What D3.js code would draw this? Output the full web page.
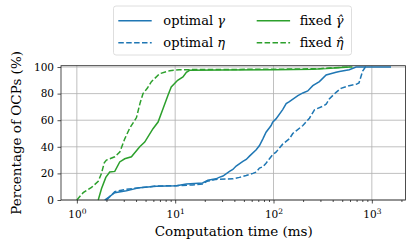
<!DOCTYPE html>
<html>
<head>
<meta charset="utf-8">
<script src="https://cdn.jsdelivr.net/npm/d3@7"></script>
<style>
  body { margin: 0; background: #fff; }
  svg { display: block; font-family: "DejaVu Serif", serif; }
</style>
</head>
<body>
<svg id="cdfChart"></svg>
<script>
/** Chart data: [time (ms), percentage of OCPs] **/
var optimalGamma = [
    [1.92, 0], [2.1, 2], [2.43, 5.5], [3.19, 7], [4.36, 9.3], [6.43, 10.3], [10.3, 10.8],
    [13, 12], [19, 12.8], [21.5, 14.8], [26, 15.9], [28, 17], [30.6, 18], [35.7, 21.5],
    [38.6, 23], [41.7, 25.5], [48.8, 29], [52.8, 30.5], [57, 33], [66.7, 37.8], [72, 41],
    [78, 46], [84, 51], [94.6, 56], [98, 58.5], [106, 61], [124, 68], [134.6, 72.5],
    [145, 74], [177, 78.5], [199, 80.5], [223, 82], [251, 86], [293, 89], [343, 94],
    [433, 96], [468, 96.7], [590, 98], [692, 100], [1567, 100]
];
var optimalEta = [
    [2.0, 0], [2.2, 3], [2.43, 6.3], [3.19, 8], [4.36, 9.3], [6.43, 10.5], [10.3, 10.8],
    [15, 11.3], [19, 12], [21, 14], [26, 15.5], [38.6, 15.9], [45, 17], [52.7, 18.4],
    [61.7, 20], [66.7, 21], [72, 24], [78, 25], [84, 27.7], [91, 31], [98, 34], [106, 36],
    [124, 42], [145, 46], [157, 50], [170, 52], [199, 56], [232, 61.5], [261, 67.8],
    [316, 70.5], [343, 72], [369, 76], [433, 81], [486, 84], [589, 86], [692, 87],
    [740, 88], [807, 97], [860, 100], [900, 100]
];
var fixedGamma = [
    [1.65, 0], [1.78, 8.5], [1.97, 17], [2.16, 21], [2.43, 21.5], [2.73, 28.6], [3.07, 31],
    [3.59, 32.5], [4.36, 40], [4.9, 43.6], [5.95, 53.6], [6.7, 58.6], [7.52, 68.6],
    [8.45, 78.7], [9.12, 85], [10.6, 90], [12, 92.5], [13, 96], [14, 97.5], [30, 97.8],
    [100, 98], [250, 98.3], [343, 98.8], [450, 99.5], [600, 100], [635, 100]
];
var fixedEta = [
    [1.0, 0], [1.16, 5.5], [1.41, 9.5], [1.65, 14], [1.78, 20], [1.9, 28], [2.0, 30],
    [2.43, 32.5], [2.73, 36], [3.07, 46], [3.45, 54], [4.04, 62], [4.4, 73], [4.71, 80],
    [5.2, 84], [5.73, 89], [6.96, 95], [8.8, 97.2], [11, 98], [30, 98.2], [100, 98.3],
    [300, 98.8], [400, 99.5], [600, 100]
];

var seriesNames  = ["optimal", "optimal", "fixed", "fixed"];
var seriesSymbol = ["\u03B3", "\u03B7", "\u03B3\u0302", "\u03B7\u0302"];
var xTickValues  = [1, 10, 100, 1000];
var xTickPowers  = ["0", "1", "2", "3"];
var yTickValues  = [0, 20, 40, 60, 80, 100];

function drawChart()
{
    var width = 406;
    var height = 242;
    var margin = {left: 61, right: 0.5, top: 65.7, bottom: 42};

    var color_blue  = '#1f77b4';
    var color_green = '#2ca02c';
    var color_grid  = '#b0b0b0';

    var svg = d3.select("#cdfChart")
        .attr("width", width)
        .attr("height", height);

    var xScale = d3.scaleLog()
        .domain([0.69, 2200])
        .range([margin.left, width - margin.right]);

    var yScale = d3.scaleLinear()
        .domain([0, 101])
        .range([height - margin.bottom, margin.top]);

    var series = [
        {data: optimalGamma, color: color_blue,  dash: null},
        {data: optimalEta,   color: color_blue,  dash: "5.5,2.4"},
        {data: fixedGamma,   color: color_green, dash: null},
        {data: fixedEta,     color: color_green, dash: "5.5,2.4"}
    ];

    // Grid lines (major ticks only).
    var grid = svg.append("g");
    grid.selectAll("line.gx")
        .data(xTickValues)
        .enter().append("line")
        .attr("x1", function(d) { return xScale(d); })
        .attr("x2", function(d) { return xScale(d); })
        .attr("y1", yScale.range()[0])
        .attr("y2", yScale.range()[1])
        .attr("stroke", color_grid)
        .attr("stroke-width", 0.8);
    grid.selectAll("line.gy")
        .data(yTickValues)
        .enter().append("line")
        .attr("x1", xScale.range()[0])
        .attr("x2", xScale.range()[1])
        .attr("y1", function(d) { return yScale(d); })
        .attr("y2", function(d) { return yScale(d); })
        .attr("stroke", color_grid)
        .attr("stroke-width", 0.8);

    // Curves.
    var line = d3.line()
        .x(function(d) { return xScale(d[0]); })
        .y(function(d) { return yScale(d[1]); });

    svg.append("g")
        .selectAll("path")
        .data(series)
        .enter().append("path")
        .attr("d", function(d) { return line(d.data); })
        .attr("fill", "none")
        .attr("stroke", function(d) { return d.color; })
        .attr("stroke-width", 1.5)
        .attr("stroke-dasharray", function(d) { return d.dash; });

    // Axes.
    var minorTicks = [];
    for (var dec = 1; dec <= 1000; dec *= 10)
        for (var k = 2; k <= 9; k++)
            if (k * dec < 2200) minorTicks.push(k * dec);

    var xAxisMinor = d3.axisBottom(xScale)
        .tickValues(minorTicks)
        .tickSize(2)
        .tickFormat("");
    var xAxis = d3.axisBottom(xScale)
        .tickValues(xTickValues)
        .tickSize(3.5)
        .tickPadding(4)
        .tickFormat(function() { return ""; });
    var yAxis = d3.axisLeft(yScale)
        .tickValues(yTickValues)
        .tickSize(3.5)
        .tickPadding(3.5);

    svg.append("g")
        .attr("transform", "translate(0," + yScale.range()[0] + ")")
        .call(xAxisMinor)
        .call(function(g) { g.select(".domain").remove(); });

    var gx = svg.append("g")
        .attr("transform", "translate(0," + yScale.range()[0] + ")")
        .call(xAxis);
    gx.select(".domain").remove();
    var xLabels = gx.selectAll(".tick text")
        .attr("y", 18.3)
        .attr("dy", null)
        .attr("font-size", 10.5)
        .attr("font-family", "DejaVu Serif")
        .attr("fill", "#000");
    xLabels.append("tspan").text("10");
    xLabels.append("tspan")
        .attr("dy", -4.5)
        .attr("font-size", 7.5)
        .text(function(d, i) { return xTickPowers[i]; });

    var gy = svg.append("g")
        .attr("transform", "translate(" + xScale.range()[0] + ",0)")
        .call(yAxis);
    gy.select(".domain").remove();
    gy.selectAll(".tick text")
        .attr("font-size", 10.5)
        .attr("font-family", "DejaVu Serif")
        .attr("fill", "#000");

    svg.selectAll(".tick line").attr("stroke", "#222").attr("stroke-width", 0.8);

    // Frame.
    svg.append("rect")
        .attr("x", xScale.range()[0])
        .attr("y", yScale.range()[1])
        .attr("width", xScale.range()[1] - xScale.range()[0])
        .attr("height", yScale.range()[0] - yScale.range()[1])
        .attr("fill", "none")
        .attr("stroke", "#222")
        .attr("stroke-width", 0.8);

    // Axis labels.
    svg.append("text")
        .attr("x", (xScale.range()[0] + xScale.range()[1]) / 2 + 0.5)
        .attr("y", 236)
        .attr("text-anchor", "middle")
        .attr("font-size", 13.5)
        .text("Computation time (ms)");

    svg.append("text")
        .attr("transform", "translate(21," + ((yScale.range()[0] + yScale.range()[1]) / 2) + ") rotate(-90)")
        .attr("text-anchor", "middle")
        .attr("font-size", 13.5)
        .text("Percentage of OCPs (%)");

    // Legend.
    var legend = svg.append("g");
    legend.append("rect")
        .attr("x", 113.5)
        .attr("y", 6)
        .attr("width", 238)
        .attr("height", 49)
        .attr("rx", 2.5)
        .attr("fill", "#fff")
        .attr("fill-opacity", 0.8)
        .attr("stroke", "#d5d5d5")
        .attr("stroke-width", 0.8);

    var entries = legend.selectAll("g.entry")
        .data(series)
        .enter().append("g")
        .attr("transform", function(d, i) {
            var col = Math.floor(i / 2), row = i % 2;
            return "translate(" + (118.3 + col * 138.4) + "," + (20.7 + row * 22) + ")";
        });
    entries.append("line")
        .attr("x1", 0)
        .attr("x2", 33.4)
        .attr("stroke", function(d) { return d.color; })
        .attr("stroke-width", 1.5)
        .attr("stroke-dasharray", function(d) { return d.dash; });
    var labels = entries.append("text")
        .attr("x", function(d, i) { return i < 2 ? 45 : 43; })
        .attr("y", 4.5)
        .attr("font-size", 13);
    labels.append("tspan").text(function(d, i) { return seriesNames[i] + " "; });
    labels.append("tspan")
        .attr("font-style", "italic")
        .text(function(d, i) { return seriesSymbol[i]; });
}

drawChart();
</script>
</body>
</html>
